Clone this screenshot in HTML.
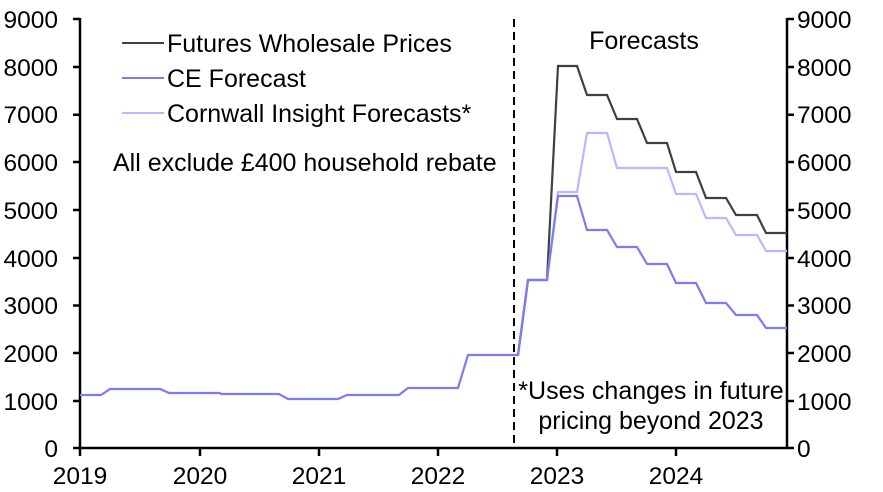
<!DOCTYPE html>
<html><head><style>body{margin:0;background:#fff}svg{display:block}text{font-family:"Liberation Sans",Arial,sans-serif;font-size:25px;fill:#000}.t{font-size:24.5px}</style></head><body>
<svg width="883" height="492" viewBox="0 0 883 492" xmlns="http://www.w3.org/2000/svg">
<g stroke="#000" stroke-width="2.5" fill="none">
<line x1="80" y1="18" x2="80" y2="449"/>
<line x1="787" y1="18" x2="787" y2="449"/>
<line x1="79" y1="448" x2="788" y2="448"/>
<path d="M73 19H80M73 67H80M73 114.7H80M73 162H80M73 210H80M73 258H80M73 305.5H80M73 353H80M73 401H80M73 448H80"/>
<path d="M787 19H794M787 67H794M787 114.7H794M787 162H794M787 210H794M787 258H794M787 305.5H794M787 353H794M787 401H794M787 448H794"/>
<path d="M80 448V456M200 448V456M319 448V456M438 448V456M557 448V456M676 448V456"/>
</g>
<line x1="514" y1="19" x2="514" y2="448" stroke="#000" stroke-width="2" stroke-dasharray="8,5"/>
<g text-anchor="end" class="t">
<text class="t" x="58" y="28">9000</text><text class="t" x="58" y="76">8000</text><text class="t" x="58" y="123">7000</text><text class="t" x="58" y="171">6000</text><text class="t" x="58" y="219">5000</text><text class="t" x="58" y="267">4000</text><text class="t" x="58" y="314">3000</text><text class="t" x="58" y="362">2000</text><text class="t" x="58" y="410">1000</text><text class="t" x="58" y="457">0</text>
</g>
<g text-anchor="start">
<text class="t" x="797" y="28">9000</text><text class="t" x="797" y="76">8000</text><text class="t" x="797" y="123">7000</text><text class="t" x="797" y="171">6000</text><text class="t" x="797" y="219">5000</text><text class="t" x="797" y="267">4000</text><text class="t" x="797" y="314">3000</text><text class="t" x="797" y="362">2000</text><text class="t" x="797" y="410">1000</text><text class="t" x="797" y="457">0</text>
</g>
<g text-anchor="middle">
<text class="t" x="80" y="484">2019</text><text class="t" x="200" y="484">2020</text><text class="t" x="319" y="484">2021</text><text class="t" x="438" y="484">2022</text><text class="t" x="557" y="484">2023</text><text class="t" x="676" y="484">2024</text>
</g>
<path d="M518 355L528 280H547L558 66H577L587 95H607L617 119H637L647 143H667L676 172H696L706 198H726L736 215H757L766 233H787" stroke="#404040" stroke-width="2.2" fill="none"/>
<path d="M547 280L558 192H577L587 133H607L617 168H667L676 194H696L706 218H726L736 235H757L766 251H787" stroke="#b8b8ff" stroke-width="2.2" fill="none"/>
<path d="M80 395H101L110 389H160L169 393H220L221 394H279L288 399H338L347 395H399L408 388H458L468 355H518L528 280H547L558 196H577L587 230H607L617 247H637L647 264H667L676 283H696L706 303H726L736 315H757L766 328H787" stroke="#7b7bf5" stroke-width="2.2" fill="none"/>
<line x1="122" y1="43" x2="164" y2="43" stroke="#404040" stroke-width="2"/>
<line x1="122" y1="78" x2="164" y2="78" stroke="#7b7bf5" stroke-width="2"/>
<line x1="122" y1="113" x2="164" y2="113" stroke="#b8b8ff" stroke-width="2"/>
<text x="167" y="52">Futures Wholesale Prices</text>
<text x="167" y="87">CE Forecast</text>
<text x="167" y="122">Cornwall Insight Forecasts*</text>
<text x="113" y="171">All exclude £400 household rebate</text>
<text x="644" y="49" text-anchor="middle">Forecasts</text>
<text x="651" y="399" text-anchor="middle">*Uses changes in future</text>
<text x="651" y="429" text-anchor="middle">pricing beyond 2023</text>
</svg>
</body></html>
